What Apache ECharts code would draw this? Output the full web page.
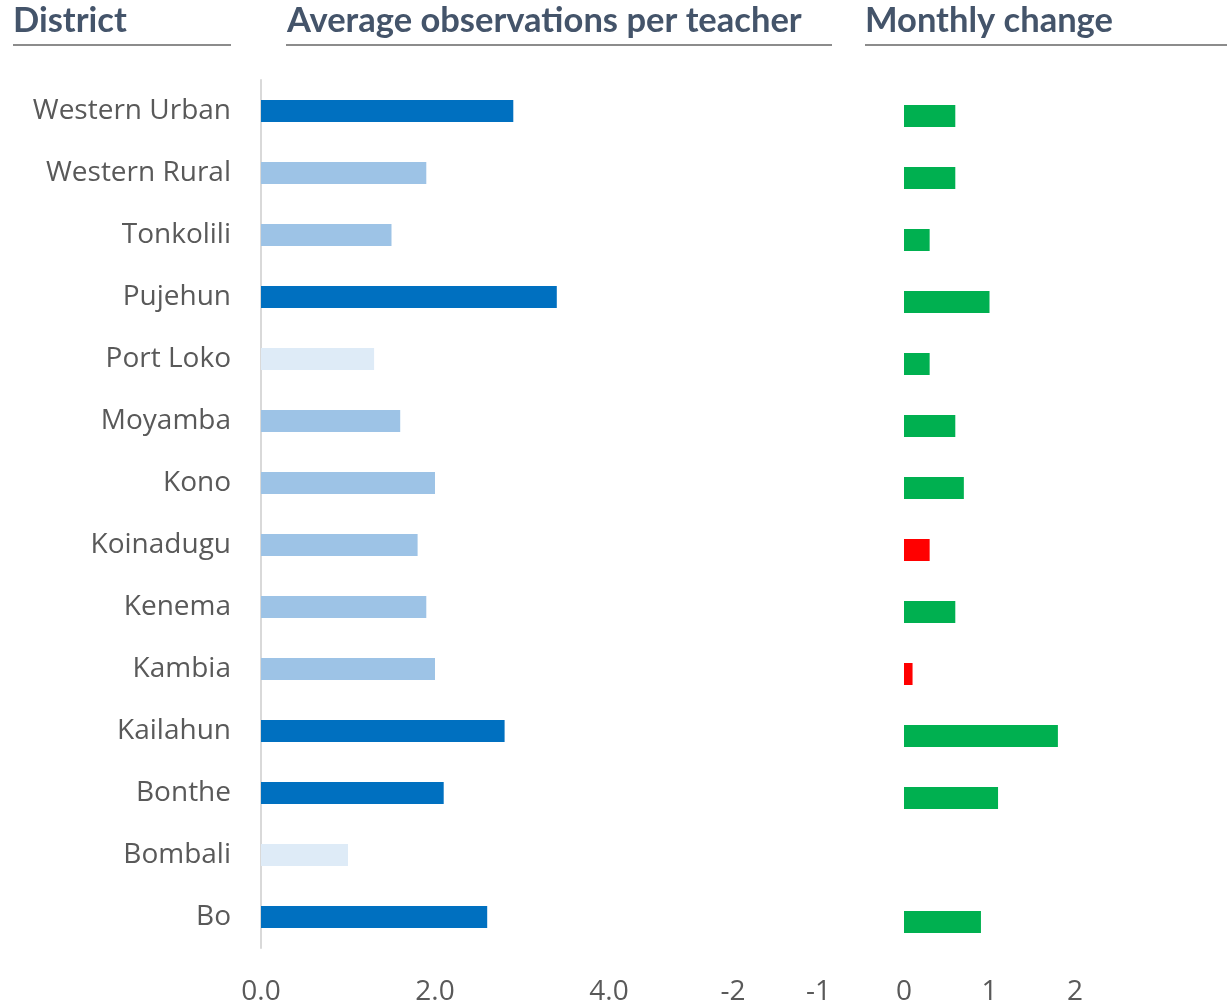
<!DOCTYPE html>
<html>
<head>
<meta charset="utf-8">
<script src="https://cdn.jsdelivr.net/npm/echarts@6/dist/echarts.min.js"></script>
<style>
  html, body { margin: 0; padding: 0; background: #fff; }
  #chart { width: 1227px; height: 1006px; }
</style>
</head>
<body>
<div id="chart"></div>
<script>
// districts, top to bottom
const districts = ["Western Urban", "Western Rural", "Tonkolili", "Pujehun", "Port Loko", "Moyamba",
  "Kono", "Koinadugu", "Kenema", "Kambia", "Kailahun", "Bonthe", "Bombali", "Bo"];
// average observations per teacher
const avgObs = [2.9, 1.9, 1.5, 3.4, 1.3, 1.6, 2.0, 1.8, 1.9, 2.0, 2.8, 2.1, 1.0, 2.6];
// colour band of each district (high / mid / low)
const obsBand = ["high", "mid", "mid", "high", "low", "mid", "mid", "mid", "mid", "mid", "high", "high", "low", "high"];
// size of monthly change (Bombali has none)
const monthlyChange = [0.6, 0.6, 0.3, 1.0, 0.3, 0.6, 0.7, 0.3, 0.6, 0.1, 1.8, 1.1, null, 0.9];
// districts where the change went down (drawn red)
const downDistricts = ["Koinadugu", "Kambia"];

const bandColor = { high: "#0070C0", mid: "#9DC3E6", low: "#DEEBF7" };
const labelFont = "'Open Sans', sans-serif";
const headFont = "Lato, 'Open Sans', sans-serif";

const chart = echarts.init(document.getElementById("chart"));

const header = (text, x) => ({
  type: "text", left: x, top: 3,
  style: { text: text, fill: "#44546A", font: "bold 34.5px " + headFont }
});
const rule = (x1, x2) => ({
  type: "line", shape: { x1: x1, y1: 45, x2: x2, y2: 45 },
  style: { stroke: "#8c8c8c", lineWidth: 2 }
});

const option = {
  animation: false,
  graphic: [
    header("District", 13), rule(13, 231),
    header("Average observations per teacher", 287), rule(286, 832),
    header("Monthly change", 865), rule(865, 1227)
  ],
  grid: [
    { left: 261, top: 80, width: 348, height: 868 },
    { left: 733, top: 85, width: 342, height: 868 }
  ],
  xAxis: [
    {
      gridIndex: 0, type: "value", min: 0, max: 4, interval: 2,
      splitLine: { show: false }, axisLine: { show: false }, axisTick: { show: false },
      axisLabel: { color: "#595959", fontSize: 28, fontFamily: labelFont, margin: 30,
        formatter: v => v.toFixed(1) }
    },
    {
      gridIndex: 1, type: "value", min: -2, max: 2, interval: 1,
      splitLine: { show: false }, axisLine: { show: false }, axisTick: { show: false },
      axisLabel: { color: "#595959", fontSize: 28, fontFamily: labelFont, margin: 25 }
    }
  ],
  yAxis: [
    {
      gridIndex: 0, type: "category", data: districts, inverse: true,
      axisLine: { show: true, lineStyle: { color: "#d9d9d9", width: 2 } },
      axisTick: { show: false },
      axisLabel: { color: "#595959", fontSize: 28, fontFamily: labelFont, margin: 30,
        padding: [6, 0, 0, 0] }
    },
    {
      gridIndex: 1, type: "category", data: districts, inverse: true,
      axisLine: { show: false }, axisTick: { show: false }, axisLabel: { show: false }
    }
  ],
  series: [
    {
      type: "bar", xAxisIndex: 0, yAxisIndex: 0, barWidth: 22,
      data: avgObs.map((v, i) => ({ value: v, itemStyle: { color: bandColor[obsBand[i]] } }))
    },
    {
      type: "bar", xAxisIndex: 1, yAxisIndex: 1, barWidth: 22,
      data: monthlyChange.map((v, i) => ({
        value: v,
        itemStyle: { color: downDistricts.includes(districts[i]) ? "#FF0000" : "#00B050" }
      }))
    }
  ]
};

chart.setOption(option);
</script>
</body>
</html>
